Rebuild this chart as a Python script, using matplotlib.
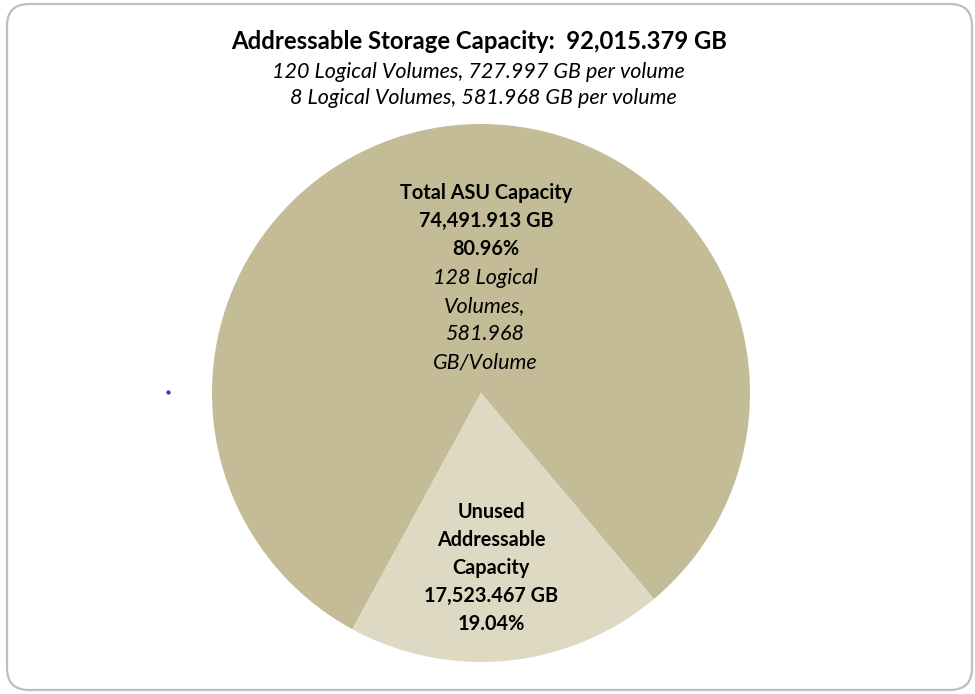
import matplotlib.pyplot as plt
from matplotlib.patches import FancyBboxPatch

# slice data
labels = ['Total ASU Capacity', 'Unused Addressable Capacity']
capacity_gb = [74491.913, 17523.467]
percents = [80.96, 19.04]
colors = ['#C4BC97', '#DDD9C3']

title = 'Addressable Storage Capacity:  92,015.379 GB'
subtitle = ['120 Logical Volumes, 727.997 GB per volume',
            '8 Logical Volumes, 581.968 GB per volume']

W, H = 975, 694
plt.rcParams['font.family'] = ['Lato', 'DejaVu Sans']

fig = plt.figure(figsize=(W / 100, H / 100), dpi=100)
ax = fig.add_axes([0, 0, 1, 1])

# pie, working in pixel-like data units (y measured from bottom)
ax.pie(capacity_gb, colors=colors, startangle=-50, counterclock=True,
       center=(481, H - 393), radius=269,
       wedgeprops=dict(linewidth=0))
ax.set_xlim(0, W)
ax.set_ylim(0, H)
ax.set_aspect('equal')
ax.axis('off')

# rounded frame around the chart area
frame = FancyBboxPatch((7, 4), 965, 686, boxstyle='round,pad=0,rounding_size=22',
                       fill=False, edgecolor='#BFBFBF', linewidth=1.6)
ax.add_patch(frame)

# titles
ax.text(479, H - 41, title, ha='center', va='center', fontsize=17.2,
        fontweight='bold', color='black')
ax.text(478, H - 72, subtitle[0], ha='center', va='center', fontsize=15.5,
        style='italic', color='black')
ax.text(483, H - 98, subtitle[1], ha='center', va='center', fontsize=15.5,
        style='italic', color='black')

# label inside the big slice
big_lines = [
    (labels[0], 'bold'),
    (f'{capacity_gb[0]:,.3f} GB', 'bold'),
    (f'{percents[0]:.2f}%', 'bold'),
    ('128 Logical', 'italic'),
    ('Volumes,', 'italic'),
    ('581.968', 'italic'),
    ('GB/Volume', 'italic'),
]
for i, (txt, kind) in enumerate(big_lines):
    y = 193 + i * 28.2
    if kind == 'bold':
        ax.text(486, H - y, txt, ha='center', va='center', fontsize=14.3,
                fontweight='bold')
    else:
        ax.text(485, H - y, txt, ha='center', va='center', fontsize=15.5,
                style='italic')

# label inside the small slice
small_lines = ['Unused', 'Addressable', 'Capacity',
               f'{capacity_gb[1]:,.3f} GB', f'{percents[1]:.2f}%']
for i, txt in enumerate(small_lines):
    y = 512 + i * 28
    ax.text(491, H - y, txt, ha='center', va='center', fontsize=14.3,
            fontweight='bold')

# stray dot seen in the original
ax.plot([168], [H - 392], 'o', color='#2030E0', markersize=2)

fig.savefig('out.png', dpi=100)
